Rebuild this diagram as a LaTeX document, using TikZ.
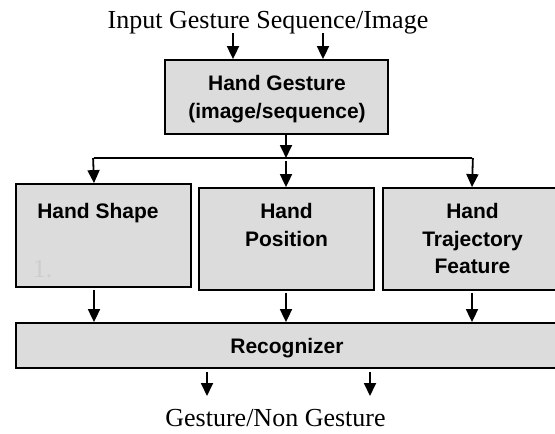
\documentclass[tikz,border=0pt]{standalone}
\usepackage{fontspec}
\setmainfont{Liberation Serif}
\newfontfamily\boxfont{Liberation Sans}
\usetikzlibrary{arrows.meta}
\definecolor{boxgray}{HTML}{DCDCDC}
\definecolor{faint}{HTML}{CDCDCD}
\begin{document}
\begin{tikzpicture}[x=1pt,y=-1pt,
  blk/.style={draw=black, fill=boxgray, line width=1.8pt, inner sep=0pt},
  lbl/.style={font=\boxfont\bfseries\fontsize{21pt}{27.7pt}\selectfont, align=center, inner sep=0pt},
  serif/.style={font=\fontsize{26pt}{30pt}\selectfont, inner sep=0pt},
  ln/.style={line width=1.8pt},
  arr/.style={line width=1.8pt, -{Triangle[length=13pt,width=12pt]}}]
\useasboundingbox (0,0) rectangle (555,434);
\clip (0,0) rectangle (555,434);
% boxes
\node[blk, minimum width=223pt, minimum height=74pt] (hg) at (276.5,97) {};
\node[blk, minimum width=175pt, minimum height=103pt] (hs) at (103.5,235.5) {};
\node[blk, minimum width=175pt, minimum height=102pt] (hp) at (286.5,239) {};
\node[blk, minimum width=179pt, minimum height=102pt] (ht) at (472.5,239) {};
\node[blk, minimum width=549pt, minimum height=45pt] (rec) at (290.5,345.5) {};
% texts
\node[serif, anchor=base] (intext) at (268,28) {Input Gesture Sequence/Image};
\node[lbl, anchor=north] (hgt) at (277,75) {Hand Gesture\\(image/sequence)};
\node[lbl, anchor=north] (hst) at (98,203) {Hand Shape};
\node[serif, anchor=base, text=faint] (one) at (42.5,277) {1.};
\node[lbl, anchor=north] (hpt) at (286.5,203) {Hand\\Position};
\node[lbl, anchor=north] (htt) at (472.5,203) {Hand\\Trajectory\\Feature};
\node[lbl, anchor=base] (rect) at (287,353) {Recognizer};
\node[serif, anchor=base] (outtext) at (275.5,426) {Gesture/Non Gesture};
% coordinates
\coordinate (a1) at (233,33);
\coordinate (a2) at (323,33);
\coordinate (sp) at (286,158);
\coordinate (sl) at (94,158);
\coordinate (sr) at (472,158);
\coordinate (o1) at (207,396);
\coordinate (o2) at (370,396);
% connectors
\draw[arr] (a1) -- (a1 |- hg.north);
\draw[arr] (a2) -- (a2 |- hg.north);
\draw[arr] (hg.south -| sp) -- (sp);
\draw[ln] (sl) -- (sr);
\draw[arr] ([xshift=-0.9pt]sl) -- (sl |- hs.north);
\draw[arr] ([xshift=0.9pt]sr) -- (sr |- ht.north);
\draw[arr] ([yshift=-3pt]sp) -- (sp |- hp.north);
\draw[arr, shorten <=2pt] (hs.south -| sl) -- (rec.north -| sl);
\draw[arr, shorten <=2pt] (hp.south -| sp) -- (rec.north -| sp);
\draw[arr, shorten <=2pt] (ht.south -| sr) -- (rec.north -| sr);
\draw[arr, shorten <=3pt] (rec.south -| o1) -- (o1);
\draw[arr, shorten <=3pt] (rec.south -| o2) -- (o2);
\end{tikzpicture}
\end{document}
